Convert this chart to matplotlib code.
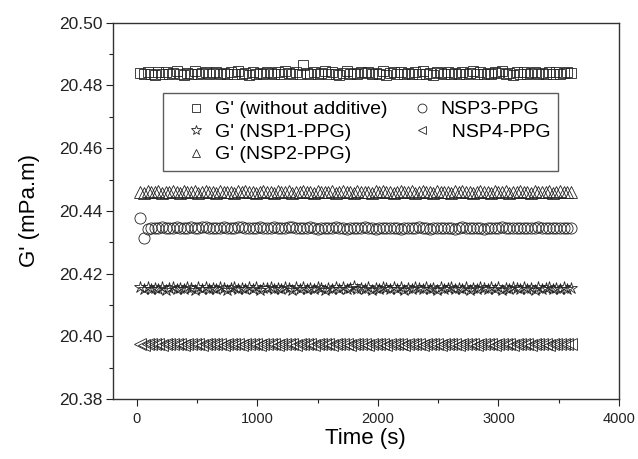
import matplotlib
matplotlib.use("Agg")
import matplotlib.pyplot as plt
from matplotlib.ticker import MultipleLocator, FormatStrFormatter

plt.rcParams['font.family'] = ['Liberation Sans', 'DejaVu Sans']

time_s = list(range(30, 3601, 30))  # 120 samples, every 30 s

g_without = [
    20.4841, 20.4836, 20.4843, 20.4838, 20.4834, 20.4842, 20.4837, 20.4844, 20.4835, 20.4840, 20.4846, 20.4838,
    20.4834, 20.4841, 20.4837, 20.4845, 20.4836, 20.4840, 20.4843, 20.4835, 20.4839, 20.4844, 20.4837, 20.4841,
    20.4835, 20.4842, 20.4838, 20.4846, 20.4836, 20.4840, 20.4834, 20.4843, 20.4838, 20.4841, 20.4836, 20.4844,
    20.4839, 20.4835, 20.4842, 20.4837, 20.4845, 20.4840, 20.4836, 20.4843, 20.4838, 20.4865, 20.4841, 20.4835,
    20.4843, 20.4837, 20.4840, 20.4845, 20.4836, 20.4842, 20.4838, 20.4834, 20.4841, 20.4846, 20.4837, 20.4840,
    20.4835, 20.4843, 20.4839, 20.4844, 20.4836, 20.4841, 20.4837, 20.4845, 20.4834, 20.4840, 20.4842, 20.4838,
    20.4844, 20.4836, 20.4841, 20.4835, 20.4843, 20.4838, 20.4846, 20.4837, 20.4840, 20.4834, 20.4842, 20.4839,
    20.4836, 20.4844, 20.4838, 20.4841, 20.4835, 20.4843, 20.4837, 20.4840, 20.4845, 20.4836, 20.4842, 20.4838,
    20.4841, 20.4835, 20.4843, 20.4839, 20.4846, 20.4837, 20.4840, 20.4834, 20.4842, 20.4838, 20.4844, 20.4836,
    20.4840, 20.4843, 20.4837, 20.4841, 20.4835, 20.4844, 20.4838, 20.4842, 20.4836, 20.4840, 20.4843, 20.4839]

g_nsp1 = [
    20.4156, 20.4151, 20.4158, 20.4150, 20.4155, 20.4152, 20.4157, 20.4149, 20.4154, 20.4158, 20.4151, 20.4155,
    20.4150, 20.4157, 20.4153, 20.4149, 20.4156, 20.4152, 20.4158, 20.4150, 20.4154, 20.4151, 20.4157, 20.4153,
    20.4149, 20.4155, 20.4158, 20.4151, 20.4154, 20.4150, 20.4156, 20.4152, 20.4157, 20.4149, 20.4155, 20.4153,
    20.4158, 20.4150, 20.4154, 20.4151, 20.4157, 20.4153, 20.4149, 20.4156, 20.4152, 20.4158, 20.4150, 20.4155,
    20.4151, 20.4157, 20.4153, 20.4149, 20.4155, 20.4152, 20.4158, 20.4150, 20.4156, 20.4151, 20.4154, 20.4159,
    20.4150, 20.4155, 20.4152, 20.4157, 20.4149, 20.4154, 20.4151, 20.4158, 20.4153, 20.4150, 20.4156, 20.4152,
    20.4157, 20.4149, 20.4155, 20.4151, 20.4158, 20.4153, 20.4150, 20.4156, 20.4152, 20.4154, 20.4149, 20.4157,
    20.4151, 20.4155, 20.4158, 20.4150, 20.4154, 20.4152, 20.4157, 20.4149, 20.4155, 20.4151, 20.4158, 20.4153,
    20.4150, 20.4156, 20.4152, 20.4157, 20.4149, 20.4154, 20.4151, 20.4158, 20.4153, 20.4150, 20.4156, 20.4152,
    20.4155, 20.4149, 20.4157, 20.4151, 20.4154, 20.4158, 20.4150, 20.4155, 20.4152, 20.4156, 20.4151, 20.4154]

g_nsp2 = [
    20.4461, 20.4458, 20.4462, 20.4459, 20.4460, 20.4463, 20.4458, 20.4461, 20.4459, 20.4462, 20.4460, 20.4458,
    20.4462, 20.4459, 20.4461, 20.4463, 20.4458, 20.4460, 20.4462, 20.4459, 20.4461, 20.4458, 20.4463, 20.4460,
    20.4459, 20.4461, 20.4458, 20.4462, 20.4460, 20.4463, 20.4459, 20.4461, 20.4458, 20.4460, 20.4462, 20.4459,
    20.4461, 20.4458, 20.4463, 20.4460, 20.4459, 20.4462, 20.4458, 20.4461, 20.4460, 20.4463, 20.4459, 20.4461,
    20.4458, 20.4462, 20.4460, 20.4459, 20.4461, 20.4463, 20.4458, 20.4460, 20.4462, 20.4459, 20.4461, 20.4458,
    20.4463, 20.4460, 20.4459, 20.4461, 20.4458, 20.4462, 20.4460, 20.4463, 20.4459, 20.4461, 20.4458, 20.4460,
    20.4462, 20.4459, 20.4461, 20.4463, 20.4458, 20.4460, 20.4462, 20.4459, 20.4461, 20.4458, 20.4463, 20.4460,
    20.4459, 20.4461, 20.4458, 20.4462, 20.4460, 20.4463, 20.4459, 20.4461, 20.4458, 20.4460, 20.4462, 20.4459,
    20.4461, 20.4458, 20.4463, 20.4460, 20.4459, 20.4462, 20.4458, 20.4461, 20.4460, 20.4463, 20.4459, 20.4461,
    20.4458, 20.4462, 20.4460, 20.4459, 20.4461, 20.4463, 20.4458, 20.4460, 20.4462, 20.4459, 20.4461, 20.4460]

g_nsp3 = [
    20.4377, 20.4313, 20.4341, 20.4344, 20.4346, 20.4345, 20.4347, 20.4346, 20.4344, 20.4346, 20.4347, 20.4345,
    20.4344, 20.4346, 20.4347, 20.4346, 20.4345, 20.4347, 20.4348, 20.4346, 20.4345, 20.4344, 20.4346, 20.4347,
    20.4345, 20.4344, 20.4346, 20.4348, 20.4347, 20.4345, 20.4344, 20.4346, 20.4345, 20.4347, 20.4346, 20.4344,
    20.4345, 20.4347, 20.4346, 20.4344, 20.4345, 20.4347, 20.4348, 20.4346, 20.4345, 20.4344, 20.4346, 20.4347,
    20.4345, 20.4343, 20.4345, 20.4346, 20.4344, 20.4345, 20.4347, 20.4346, 20.4344, 20.4343, 20.4345, 20.4346,
    20.4344, 20.4345, 20.4347, 20.4346, 20.4344, 20.4343, 20.4345, 20.4346, 20.4344, 20.4345, 20.4346, 20.4344,
    20.4343, 20.4345, 20.4346, 20.4344, 20.4345, 20.4347, 20.4346, 20.4344, 20.4343, 20.4345, 20.4346, 20.4344,
    20.4345, 20.4346, 20.4344, 20.4343, 20.4345, 20.4347, 20.4346, 20.4344, 20.4345, 20.4346, 20.4344, 20.4343,
    20.4345, 20.4346, 20.4344, 20.4345, 20.4347, 20.4346, 20.4344, 20.4345, 20.4346, 20.4344, 20.4345, 20.4346,
    20.4344, 20.4345, 20.4347, 20.4346, 20.4344, 20.4345, 20.4346, 20.4345, 20.4344, 20.4346, 20.4345, 20.4346]

g_nsp4 = [
    20.3976, 20.3973, 20.3975, 20.3977, 20.3974, 20.3976, 20.3973, 20.3975, 20.3977, 20.3974, 20.3975, 20.3976,
    20.3973, 20.3977, 20.3975, 20.3974, 20.3976, 20.3973, 20.3975, 20.3977, 20.3974, 20.3976, 20.3975, 20.3973,
    20.3977, 20.3974, 20.3976, 20.3975, 20.3973, 20.3976, 20.3974, 20.3977, 20.3975, 20.3973, 20.3976, 20.3974,
    20.3975, 20.3977, 20.3973, 20.3976, 20.3974, 20.3975, 20.3976, 20.3973, 20.3977, 20.3974, 20.3976, 20.3975,
    20.3973, 20.3976, 20.3974, 20.3977, 20.3975, 20.3973, 20.3976, 20.3974, 20.3975, 20.3977, 20.3973, 20.3976,
    20.3974, 20.3975, 20.3976, 20.3973, 20.3977, 20.3974, 20.3976, 20.3975, 20.3973, 20.3976, 20.3974, 20.3977,
    20.3975, 20.3973, 20.3976, 20.3974, 20.3975, 20.3977, 20.3973, 20.3976, 20.3974, 20.3975, 20.3976, 20.3973,
    20.3977, 20.3974, 20.3976, 20.3975, 20.3973, 20.3976, 20.3974, 20.3977, 20.3975, 20.3973, 20.3976, 20.3974,
    20.3975, 20.3977, 20.3973, 20.3976, 20.3974, 20.3975, 20.3976, 20.3973, 20.3977, 20.3974, 20.3976, 20.3975,
    20.3973, 20.3976, 20.3974, 20.3977, 20.3975, 20.3973, 20.3976, 20.3974, 20.3975, 20.3976, 20.3974, 20.3975]

labels = ["G' (without additive)", "G' (NSP1-PPG)", "G' (NSP2-PPG)", "NSP3-PPG", "  NSP4-PPG"]

fig = plt.figure(figsize=(6.38, 4.59), dpi=100)
ax = fig.add_axes([0.1766, 0.1307, 0.7937, 0.8198])

common = dict(linestyle='none', markerfacecolor='none', markeredgecolor='#222222', markeredgewidth=0.6)
ax.plot(time_s, g_without, marker='s', markersize=7, label=labels[0], **common)
ax.plot(time_s, g_nsp1, marker='*', markersize=9, label=labels[1], **common)
ax.plot(time_s, g_nsp2, marker='^', markersize=8, label=labels[2], **common)
ax.plot(time_s, g_nsp3, marker='o', markersize=8, label=labels[3], **common)
ax.plot(time_s, g_nsp4, marker='<', markersize=8, label=labels[4], **common)

ax.set_xlim(-200, 4000)
ax.set_ylim(20.38, 20.50)
ax.xaxis.set_major_locator(MultipleLocator(1000))
ax.xaxis.set_minor_locator(MultipleLocator(500))
ax.yaxis.set_major_locator(MultipleLocator(0.02))
ax.yaxis.set_minor_locator(MultipleLocator(0.01))
ax.yaxis.set_major_formatter(FormatStrFormatter('%.2f'))
ax.tick_params(axis='both', which='major', direction='out', length=5, width=0.8, colors='#222222', pad=2)
ax.tick_params(axis='both', which='minor', direction='out', length=3, width=0.8, colors='#222222')
ax.tick_params(axis='y', which='major', labelsize=12.5)
ax.tick_params(axis='x', which='major', labelsize=10.5, pad=4)
for s in ax.spines.values():
    s.set_linewidth(1.0)
    s.set_color('#333333')

ax.set_xlabel('Time (s)', fontsize=16, labelpad=2)
ax.set_ylabel("G' (mPa.m)", fontsize=16, labelpad=14)

leg = ax.legend(ncol=2, loc='upper left', bbox_to_anchor=(0.0993, 0.8132), borderaxespad=0,
                fontsize=14, frameon=True, fancybox=False, edgecolor='#333333', markerscale=0.8,
                handlelength=2.6, handletextpad=-0.32, columnspacing=0.45, labelspacing=0.25,
                borderpad=0.4)
leg.get_frame().set_linewidth(1.0)

fig.savefig('out.png', dpi=100)
